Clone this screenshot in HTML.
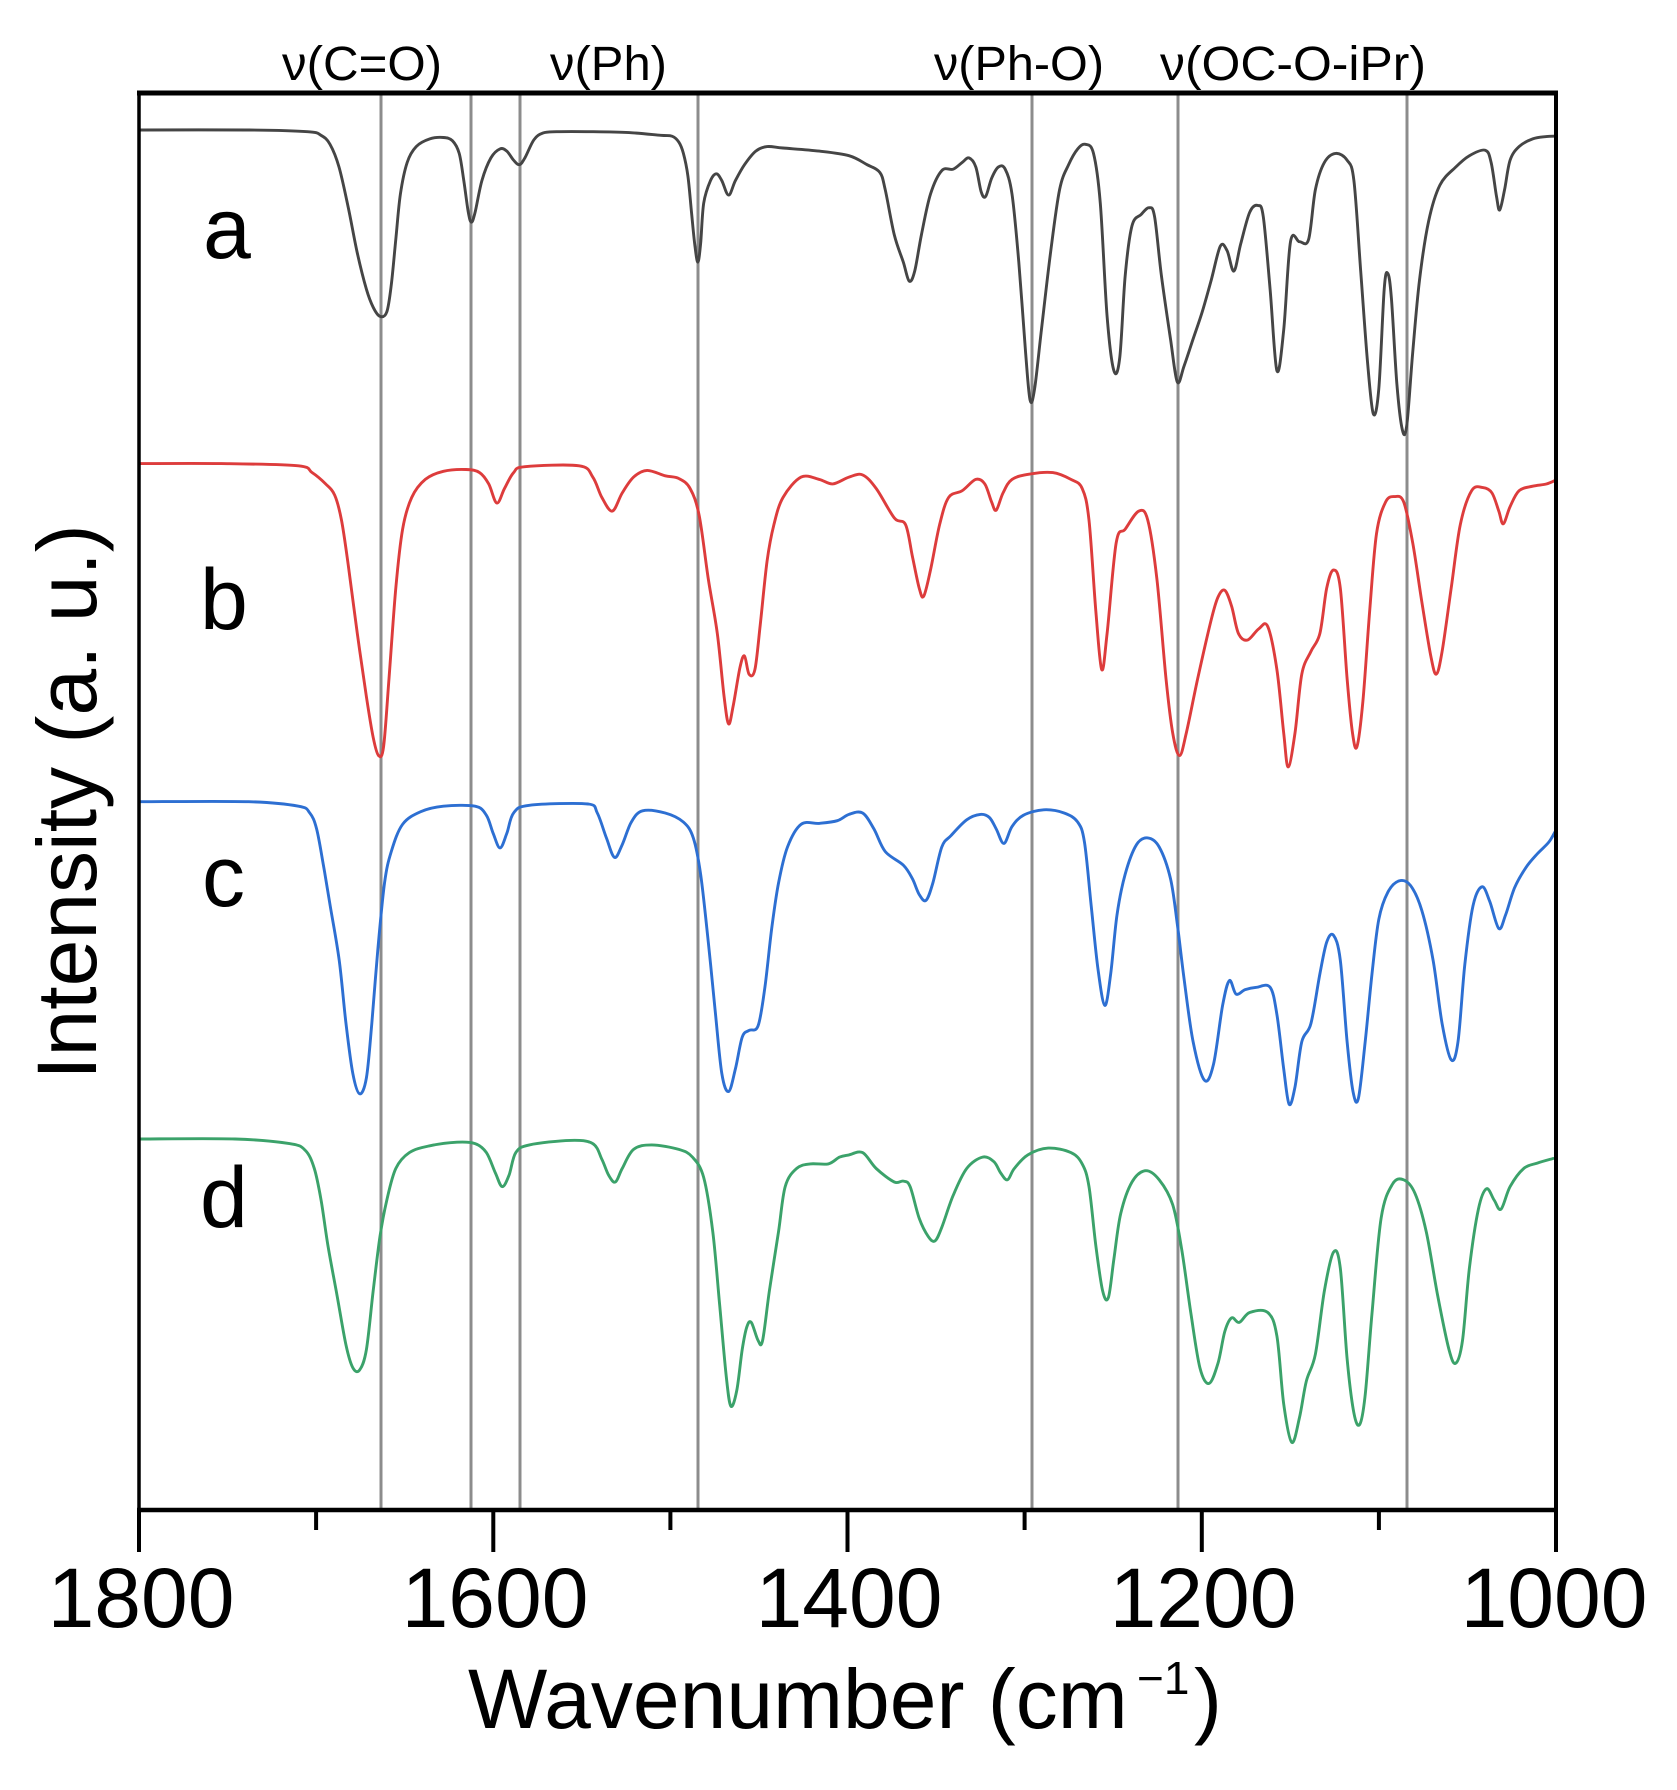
<!DOCTYPE html>
<html>
<head>
<meta charset="utf-8">
<style>
html,body{margin:0;padding:0;background:#fff;}
svg{display:block;}
text{font-family:"Liberation Sans",Arial,sans-serif;fill:#000;}
</style>
</head>
<body>
<svg id="chart" width="1677" height="1790" viewBox="0 0 1677 1790" xmlns="http://www.w3.org/2000/svg">
<rect x="0" y="0" width="1677" height="1790" fill="#fff"/>

<!-- vertical reference lines -->
<g stroke="#8c8c8c" stroke-width="3">
<line x1="381" y1="94" x2="381" y2="1509"/>
<line x1="471" y1="94" x2="471" y2="1509"/>
<line x1="520" y1="94" x2="520" y2="1509"/>
<line x1="698" y1="94" x2="698" y2="1509"/>
<line x1="1032" y1="94" x2="1032" y2="1509"/>
<line x1="1178" y1="94" x2="1178" y2="1509"/>
<line x1="1407" y1="94" x2="1407" y2="1509"/>
</g>

<g fill="none" stroke-width="2.9" stroke-linejoin="round" stroke-linecap="round">
<!-- a -->
<polyline class="s" stroke="#454545" points="140,130 249,130 307.5,131.7 321,135.3 330,144.3 339,167 348.3,207.7 357.3,253 366.4,289.2 373.2,307.3 380,316.4 386.8,311.9 391.3,284.7 395.8,239.4 400.4,194.1 407.2,162.4 416.2,146.6 429.8,138.9 443.4,137.5 452.4,140.7 459.2,153.4 463.8,180.6 468.3,212.3 471.4,222.2 475.1,212.3 481.9,180.6 490.9,157.9 500,148.9 506.8,151.1 513.6,160.2 519.4,164.7 524.9,157.9 533.9,139.8 543,133 556.6,131.7 592.8,131.7 629,132.6 660.7,135.3 672,136.2 678.8,142.1 683.4,153.4 687.9,176 691.5,212.3 694.7,243.9 697.8,262.1 700.6,243.9 703.7,203.2 710.5,180.6 716.4,173.8 721.8,180.6 728.6,195.1 735.4,180.6 744.5,164.7 755.8,151.1 767.1,146.6 783,148 819.2,151.1 849,155.7 867.1,164.7 879.8,172.4 885.2,189.6 894.3,234.9 903.3,262.1 909.2,281.1 914.7,271.1 921.4,234.9 930.5,194.1 941.8,170.6 953.1,169.2 962.2,162.4 969,157.9 975.8,167 981.2,191.9 985.7,196.4 991.6,178.3 998.4,167 1005.2,169.2 1012,194.1 1018.8,262.1 1025.6,352.6 1030.1,400.2 1034.6,388.8 1041.4,330 1050.5,253 1059.6,189.6 1068.6,164.7 1077.7,148.9 1085.4,144.3 1093.5,153.4 1100.3,203.2 1107.1,316.4 1113.9,370.7 1119.8,357.2 1125.2,275.6 1132,225.8 1141.1,214.5 1149.2,207.7 1154.6,216.8 1161.4,275.6 1170.5,339 1177.3,382 1184,366.2 1193.1,339 1202.2,311.9 1211.2,280.2 1220.3,246.2 1227.1,250.7 1233.9,271.1 1240.7,243.9 1249.7,212.3 1257.9,205.5 1263.3,216.8 1270.1,289.2 1276.9,370.7 1283.7,330 1290.5,241.7 1299.5,241.7 1308.6,239.4 1315.4,189.6 1324.4,162.4 1335.8,153.4 1347.1,160.2 1353.9,180.6 1360.7,271.1 1367.5,361.7 1373.3,413.8 1378.8,388.8 1384.2,289.2 1387.8,273.4 1391.4,298.3 1396.9,384.3 1402.3,429.6 1406.8,425.1 1412.7,352.6 1419.5,280.2 1428.6,221.3 1439.9,185.1 1455.8,167 1469.4,155.7 1485.2,150.2 1491.1,162.4 1496.5,196.4 1499.7,210 1504.6,189.6 1510.1,160.2 1519.1,146.6 1532.7,138.9 1546.3,136.6 1555.4,136.2"/>
<!-- b -->
<polyline class="s" stroke="#dd3c3c" points="140,463.6 221.5,463.6 298.5,465.8 312.1,472.6 325.6,483.9 334.7,495.2 341.5,520.2 348.3,565.4 357.3,633.4 366.4,696.7 373.2,737.5 378.6,755.6 383.6,746.5 389,678.6 395.8,588.1 402.6,529.2 411.7,497.5 425.3,479.4 443.4,471.3 466,469.5 479.6,472.6 488.7,483.9 496.8,503 504.5,488.5 513.6,472.6 524.9,466.7 579.2,465.8 592.8,477.1 601.9,497.5 612.3,511.1 622.2,493 633.6,477.1 647.1,470.4 665.2,475.8 678.8,478.5 690.1,488.5 699.2,515.6 708.3,579 717.3,633.4 724.1,696.7 728.6,723.9 733.2,705.8 740,667.3 744.5,656 749,674.1 754.9,669.6 760.3,624.3 767.1,560.9 773.9,524.7 783,497.5 801.1,477.1 819.2,479.4 832.7,483.9 849,477.1 862.6,474.9 876.2,488.5 894.3,517.9 905.6,524.7 912.4,556.4 919.2,588.1 923.7,596.2 930.5,570 939.6,524.7 948.6,497.5 962.2,490.7 975.8,479.4 984.8,483.9 991.6,502 996.2,510.2 1003,493 1012,479.4 1030.1,474 1052.8,472.6 1070.9,479.4 1082.2,488.5 1089,520.2 1095.8,610.7 1101.7,669.6 1107.1,633.4 1116.2,542.8 1125.2,529.2 1138.8,511.1 1147.8,520.2 1156.9,579 1166,678.6 1172.7,733 1179.5,755.6 1186.3,733 1197.7,678.6 1211.2,619.8 1218,597.1 1224.8,590.3 1231.6,606.2 1238.4,633.4 1247.4,640.1 1258.8,628.8 1267.8,626.6 1276.9,669.6 1283.7,733 1288.2,766.9 1295,733 1301.8,674.1 1310.9,651.5 1319.9,633.4 1326.7,588.1 1333.5,570 1340.3,588.1 1347.1,678.6 1352.5,733 1357,746.5 1362.9,701.3 1369.7,610.7 1376.5,533.7 1385.6,502 1394.6,496.6 1403.7,502 1412.7,542.8 1421.8,601.7 1430.8,656 1436.3,674.1 1442.1,651.5 1451.2,588.1 1460.3,524.7 1471.6,490.7 1482.9,487.6 1492,493 1498.8,511.1 1503.3,523.8 1510.1,506.6 1519.1,490.7 1532.7,486.2 1546.3,484 1555.4,480.3"/>
<!-- c -->
<polyline class="s" stroke="#2d6fd2" points="140,801.7 248.7,801.7 298.5,806.2 309.8,813 316.6,828.9 323.4,865.1 330.2,905.8 339.2,960.2 346,1023.6 352.8,1073.4 359.6,1093.8 366.4,1077.9 371.8,1023.6 377.7,951.1 384.5,883.2 391.3,851.5 402.6,824.3 420.7,811.7 443.4,806.2 475.1,806.2 486.4,815.3 493.2,833.4 500,847.9 506.8,833.4 513.6,813 529.4,805.3 588.3,804 597.3,813 606.4,837.9 614.5,857.4 622.2,844.7 631.3,822.1 642.6,810.8 665.2,813 683.4,822.1 693.3,837.9 700.6,874.1 708.3,942.1 715.1,1010 721.8,1073.4 728.6,1091.5 735.4,1068.9 742.2,1037.2 749,1030.4 758.1,1025.8 764.9,987.3 771.7,928.5 778.5,883.2 787.5,847 801.1,824.3 819.2,823.4 837.3,820.7 849,814.4 862.6,813 873.9,828.9 885.2,851.5 903.3,865.1 912.4,878.7 919.2,894.5 926,900.4 932.8,883.2 941.8,847 950.9,835.7 966.7,819.8 980.3,814.4 989.4,817.5 996.2,828.9 1003.9,843.4 1012,826.6 1023.3,815.3 1043.7,809.8 1064.1,813 1077.7,822.1 1084.5,842.4 1091.2,905.8 1098,969.2 1104.8,1005.4 1110.7,973.8 1117,914.9 1125.2,874.1 1136.5,844.7 1147.8,837.9 1159.2,847 1170.5,878.7 1177.3,924 1184,978.3 1193.1,1041.7 1204.4,1080.2 1213.5,1064.3 1222.6,1005.4 1229.4,980.6 1236.1,994.1 1245.2,989.6 1256.5,987.3 1270.1,987.3 1276.9,1014.5 1283.7,1068.9 1289.1,1104.2 1295,1087 1301.8,1041.7 1310.9,1023.6 1319.9,973.8 1326.7,942.1 1333.5,935.3 1340.3,960.2 1347.1,1041.7 1353,1091.5 1358.4,1098.3 1365.2,1041.7 1372,973.8 1378.8,919.4 1387.8,892.3 1399.1,880.9 1410.5,885.5 1421.8,910.4 1433.1,960.2 1442.1,1023.6 1451.2,1059.8 1458,1041.7 1464.8,964.7 1473,905.8 1482,886.8 1489.7,901.3 1498.8,928.5 1505.6,914.9 1514.6,887.7 1526,867.4 1537.3,853.8 1548.6,842.4 1555.4,831.1"/>
<!-- d -->
<polyline class="s" stroke="#3ba26a" points="140,1139 235.1,1139 289.4,1143.6 305.3,1150.4 314.3,1168.5 321.1,1200.2 327.9,1245.4 337,1295.2 346,1345.1 352.8,1367.7 359.6,1370 366.4,1349.6 373.2,1290.7 380,1236.4 386.8,1200.2 395.8,1168.5 409.4,1152.6 429.8,1145.8 457,1142.2 475.1,1143.6 486.4,1152.6 495.4,1173 502.2,1186.6 509,1175.3 515.8,1152.6 529.4,1144.9 570.2,1140.4 592.8,1143.6 601.9,1159.4 608.7,1175.3 615.4,1182 622.2,1168.5 633.6,1149.4 651.7,1144.9 678.8,1149.4 692.4,1157.1 703.7,1177.5 712.8,1231.9 719.6,1304.3 726.3,1376.8 730.9,1406.2 736.8,1390.3 742.2,1349.6 746.8,1327 751.3,1322.4 758.1,1340.5 762.6,1340.5 769.4,1290.7 778.5,1231.9 785.2,1186.6 796.6,1168.5 810.2,1163.9 828.3,1163.9 839.6,1157.1 849,1154.9 862.6,1152.6 876.2,1168.5 894.3,1182 903.3,1181.1 910.1,1186.6 919.2,1218.3 928.2,1236.4 935,1240.9 941.8,1227.3 953.1,1195.6 966.7,1168.5 982.6,1157.1 993.9,1161.7 1000.7,1173 1007.5,1179.8 1014.3,1168.5 1027.9,1154.9 1048.2,1148.1 1070.9,1152.6 1082.2,1163.9 1089,1186.6 1095.8,1245.4 1102.6,1290.7 1108.4,1297.5 1113.9,1259 1120.7,1213.7 1132,1182 1145.6,1170.7 1159.2,1179.8 1172.7,1204.7 1181.8,1250 1190.9,1313.4 1199.9,1367.7 1209,1383.5 1218,1363.2 1224.8,1331.5 1231.6,1317.9 1239.3,1322.4 1249.7,1312.5 1267.8,1312.5 1276.9,1336 1283.7,1403.9 1291.8,1442.4 1299.5,1417.5 1306.3,1381.3 1315.4,1354.1 1324.4,1290.7 1333.5,1252.2 1340.3,1268.1 1347.1,1358.6 1353.9,1413 1359.8,1424.3 1365.2,1394.9 1372,1313.4 1381.1,1218.3 1392.4,1184.3 1403.7,1179.8 1415,1193.4 1426.3,1231.9 1437.6,1295.2 1449,1349.6 1455.8,1363.2 1462.5,1340.5 1469.4,1268.1 1478.4,1209.2 1486.5,1188.8 1494.2,1200.2 1501,1209.2 1510.1,1186.6 1523.7,1168.5 1537.3,1163.1 1553.1,1158.5"/>
</g>

<!-- frame -->
<g stroke="#000">
<line x1="137" y1="93" x2="1558" y2="93" stroke-width="5"/>
<line x1="137" y1="1510" x2="1558" y2="1510" stroke-width="4.5"/>
<line x1="139" y1="91" x2="139" y2="1512" stroke-width="3.5"/>
<line x1="1556" y1="91" x2="1556" y2="1512" stroke-width="4"/>
</g>

<!-- ticks -->
<g stroke="#000" stroke-width="4">
<line x1="139" y1="1510" x2="139" y2="1552"/>
<line x1="493.3" y1="1510" x2="493.3" y2="1552"/>
<line x1="847.5" y1="1510" x2="847.5" y2="1552"/>
<line x1="1201.8" y1="1510" x2="1201.8" y2="1552"/>
<line x1="1556" y1="1510" x2="1556" y2="1552"/>
<line x1="316.1" y1="1510" x2="316.1" y2="1530"/>
<line x1="670.4" y1="1510" x2="670.4" y2="1530"/>
<line x1="1024.6" y1="1510" x2="1024.6" y2="1530"/>
<line x1="1378.9" y1="1510" x2="1378.9" y2="1530"/>
</g>

<!-- tick labels -->
<g font-size="84" text-anchor="middle">
<text x="141" y="1627">1800</text>
<text x="495" y="1627">1600</text>
<text x="849" y="1627">1400</text>
<text x="1203" y="1627">1200</text>
<text x="1554" y="1627">1000</text>
</g>

<!-- x axis label -->
<text x="468" y="1728" font-size="84">Wavenumber (cm</text>
<text x="1137" y="1694" font-size="46">−1</text>
<text x="1194" y="1728" font-size="84">)</text>

<!-- y axis label -->
<text transform="translate(96,802) rotate(-90)" font-size="84" text-anchor="middle">Intensity (a. u.)</text>

<!-- annotations -->
<g font-size="48">
<text x="282" y="80" textLength="160" lengthAdjust="spacingAndGlyphs">ν(C=O)</text>
<text x="550" y="80" textLength="117" lengthAdjust="spacingAndGlyphs">ν(Ph)</text>
<text x="934" y="80" textLength="170" lengthAdjust="spacingAndGlyphs">ν(Ph-O)</text>
<text x="1160" y="80" textLength="266" lengthAdjust="spacingAndGlyphs">ν(OC-O-iPr)</text>
</g>

<!-- series letters -->
<g font-size="86">
<text x="203" y="258">a</text>
<text x="200" y="629">b</text>
<text x="202" y="906">c</text>
<text x="200" y="1227">d</text>
</g>
</svg>
<script>
(function(){
  try{
    var NS="http://www.w3.org/2000/svg";
    var pls=document.querySelectorAll('polyline.s');
    for(var k=0;k<pls.length;k++){
      var pl=pls[k];
      var nums=pl.getAttribute('points').trim().split(/[\s,]+/).map(Number);
      var p=[];
      for(var i=0;i+1<nums.length;i+=2)p.push([nums[i],nums[i+1]]);
      var t=1/6;
      var d='M'+p[0][0]+','+p[0][1];
      for(var i=0;i<p.length-1;i++){
        var p0=p[i-1]||p[i],p1=p[i],p2=p[i+1],p3=p[i+2]||p[i+1];
        var c1x=p1[0]+(p2[0]-p0[0])*t,c1y=p1[1]+(p2[1]-p0[1])*t;
        var c2x=p2[0]-(p3[0]-p1[0])*t,c2y=p2[1]-(p3[1]-p1[1])*t;
        if(c1x>p2[0])c1x=p2[0]; if(c1x<p1[0])c1x=p1[0];
        if(c2x<p1[0])c2x=p1[0]; if(c2x>p2[0])c2x=p2[0];
        d+=' C'+c1x.toFixed(2)+','+c1y.toFixed(2)+' '+c2x.toFixed(2)+','+c2y.toFixed(2)+' '+p2[0]+','+p2[1];
      }
      var path=document.createElementNS(NS,'path');
      path.setAttribute('d',d);
      path.setAttribute('stroke',pl.getAttribute('stroke'));
      path.setAttribute('fill','none');
      pl.parentNode.insertBefore(path,pl);
      pl.parentNode.removeChild(pl);
    }
  }catch(e){}
})();
</script>
</body>
</html>
